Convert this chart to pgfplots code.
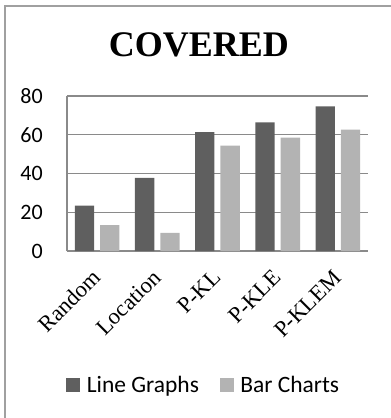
\documentclass[border=0pt]{standalone}
\usepackage{pgfplots}
\pgfplotsset{compat=1.18}
\usepackage{fontspec}
\setmainfont{Liberation Serif}
\newfontfamily\calibri{Carlito}

\definecolor{darkbar}{HTML}{5F5F5F}
\definecolor{lightbar}{HTML}{B3B3B3}
\definecolor{gridgray}{HTML}{8A8A8A}
\definecolor{framegray}{HTML}{A0A0A0}

\def\u{0.75pt}

\begin{document}
\begin{tikzpicture}
  \useasboundingbox (0,0) rectangle ({391*\u},{-418*\u});
  % chart frame
  \draw[framegray, line width=1.2pt]
    ({5*\u},{-430*\u}) -- ({5*\u},{-6*\u}) -- ({400*\u},{-6*\u});
  % title
  \node[font=\fontsize{27}{32}\selectfont\bfseries, anchor=center]
    at ({199*\u},{-45*\u}) {COVERED};

  \begin{axis}[
    at={({67*\u},{-251*\u})}, anchor=south west,
    scale only axis,
    width={301*\u}, height={155*\u},
    ybar=4.5pt, bar width=14.5pt,
    xmin=-0.5, xmax=4.5,
    ymin=0, ymax=80,
    enlargelimits=false,
    axis lines=left,
    axis line style={-, draw=gridgray, line width=0.8pt},
    ymajorgrids,
    grid style={draw=gridgray, line width=0.8pt},
    major tick length=0pt,
    xtick={0,1,2,3,4},
    xticklabels={Random,Location,P-KL,P-KLE,P-KLEM},
    ytick={0,20,40,60,80},
    /pgf/number format/assume math mode=true,
    yticklabel style={font=\calibri\fontsize{16.5}{20}\selectfont,
      anchor=east, inner sep=0pt, xshift={-24*\u}},
    xticklabel style={font=\fontsize{17}{20}\selectfont,
      anchor=base east, inner sep=0pt,
      xshift={5*\u}, yshift={-28*\u}, rotate=45},
    legend columns=2,
    legend style={
      at={(0.455,-0.865)}, anchor=center,
      draw=none, fill=none,
      font=\calibri\fontsize{17.6}{21}\selectfont,
      /tikz/every even column/.append style={column sep={18*\u}},
    },
    legend image code/.code={
      \fill[#1, draw=none] (0pt,{-7*\u}) rectangle ({14*\u},{7*\u});
      \path ({18*\u},0pt);
    },
  ]
    \addplot[fill=darkbar, draw=none] coordinates
      {(0,23.4) (1,37.8) (2,61.3) (3,66.4) (4,74.7)};
    \addplot[fill=lightbar, draw=none] coordinates
      {(0,13.4) (1,9.3) (2,54.4) (3,58.5) (4,62.6)};
    \legend{Line Graphs, Bar Charts}
  \end{axis}
\end{tikzpicture}
\end{document}
